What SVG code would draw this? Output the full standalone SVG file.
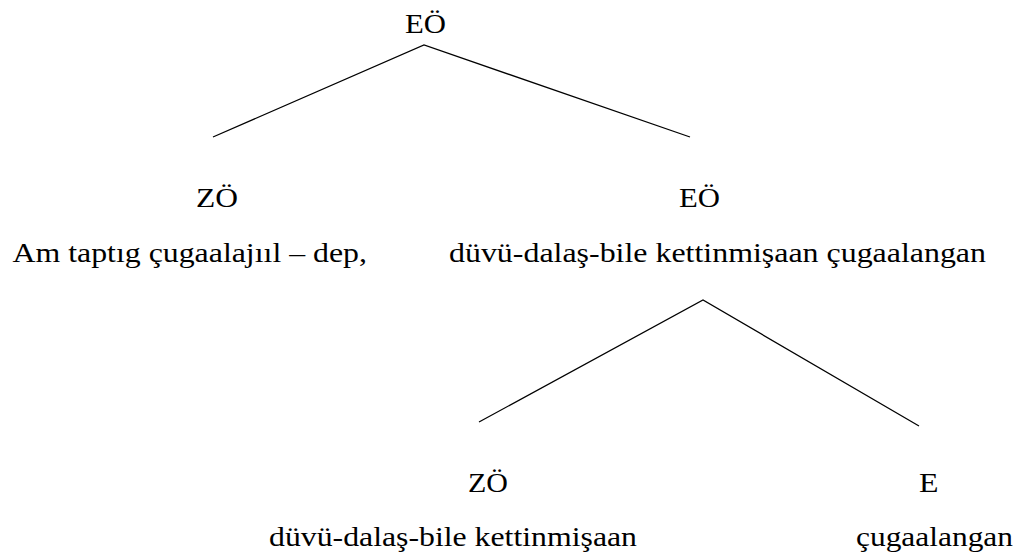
<svg xmlns="http://www.w3.org/2000/svg" width="1023" height="557" viewBox="0 0 1023 557">
<style>
text { font-size: 28px; fill: #000; }
.edge { stroke: #000; stroke-width: 1.3; fill: none; stroke-linecap: butt; }
</style>
<rect width="1023" height="557" fill="#fff"/>
<g id="connectors">
<polyline class="edge" points="213,137 424,45 690,137"/>
<polyline class="edge" points="479,422 703,300 919,426"/>
</g>
<g id="node-root"><text font-family="Times New Roman, Liberation Serif, serif" x="405" y="33" textLength="41" lengthAdjust="spacingAndGlyphs">EÖ</text></g>
<g id="node-zo1"><text font-family="Times New Roman, Liberation Serif, serif" x="196" y="207" textLength="42" lengthAdjust="spacingAndGlyphs">ZÖ</text></g>
<g id="node-zo1-text"><text font-family="Times New Roman, Liberation Serif, serif" x="12.5" y="262" textLength="354.5" lengthAdjust="spacingAndGlyphs">Am taptıg çugaalajııl – dep,</text></g>
<g id="node-eo2"><text font-family="Times New Roman, Liberation Serif, serif" x="679" y="207" textLength="41" lengthAdjust="spacingAndGlyphs">EÖ</text></g>
<g id="node-eo2-text"><text font-family="Times New Roman, Liberation Serif, serif" x="449" y="262" textLength="537" lengthAdjust="spacingAndGlyphs">düvü-dalaş-bile kettinmişaan çugaalangan</text></g>
<g id="node-zo2"><text font-family="Times New Roman, Liberation Serif, serif" x="468" y="492" textLength="40" lengthAdjust="spacingAndGlyphs">ZÖ</text></g>
<g id="node-zo2-text"><text font-family="Times New Roman, Liberation Serif, serif" x="269" y="546" textLength="368" lengthAdjust="spacingAndGlyphs">düvü-dalaş-bile kettinmişaan</text></g>
<g id="node-e"><text font-family="Times New Roman, Liberation Serif, serif" x="919" y="492" textLength="19.5" lengthAdjust="spacingAndGlyphs">E</text></g>
<g id="node-e-text"><text font-family="Times New Roman, Liberation Serif, serif" x="856" y="546" textLength="157" lengthAdjust="spacingAndGlyphs">çugaalangan</text></g>
</svg>
